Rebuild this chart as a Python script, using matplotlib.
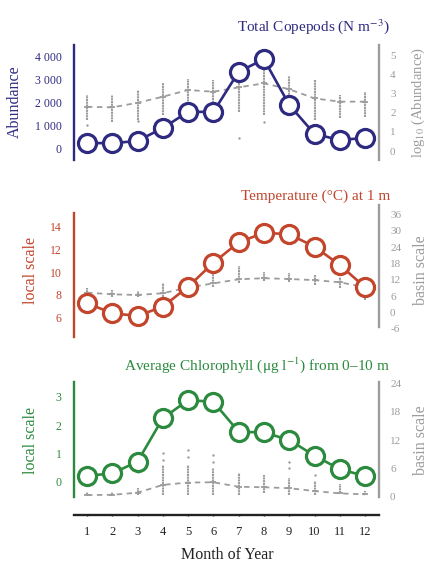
import numpy as np
import matplotlib.pyplot as plt

plt.rcParams['font.family'] = ['Liberation Serif', 'DejaVu Serif']
plt.rcParams['mathtext.fontset'] = 'stix'
plt.rcParams['axes.unicode_minus'] = False

months = np.arange(1, 13)
month_labels = [str(m) for m in months]

# Total copepods (local abundance) and basin log10 abundance
cop_local = [260, 250, 350, 910, 1610, 1610, 3350, 3890, 1910, 650, 390, 480]
cop_mean = [2.32, 2.29, 2.53, 2.85, 3.20, 3.11, 3.34, 3.55, 3.24, 2.76, 2.59, 2.59]
cop_hi = [2.94, 2.94, 3.20, 3.55, 3.80, 3.70, 3.83, 4.50, 3.95, 3.72, 2.94, 3.10]
cop_lo = [1.63, 1.54, 1.63, 1.89, 1.90, 1.70, 2.05, 1.90, 2.10, 1.63, 1.73, 1.80]
cop_out_m = [1, 3, 7, 8]
cop_out_v = [1.36, 1.57, 0.66, 1.50]

# Temperature at 1 m
temp_local = [7.24, 6.36, 6.12, 6.94, 8.70, 10.82, 12.62, 13.47, 13.33, 12.24, 10.62, 8.65]
temp_mean = [7.3, 6.7, 6.45, 7.1, 9.2, 10.7, 12.2, 12.6, 12.3, 11.9, 11.1, 9.3]
temp_hi = [9.0, 8.3, 8.0, 10.7, 12.0, 15.8, 17.0, 14.9, 14.4, 13.8, 13.2, 10.8]
temp_lo = [6.3, 5.8, 5.8, 5.8, 8.5, 9.5, 11.0, 11.5, 11.3, 10.0, 8.9, 4.6]

# Chlorophyll 0-10 m
chl_local = [0.21, 0.29, 0.71, 2.24, 2.88, 2.82, 1.76, 1.74, 1.47, 0.92, 0.44, 0.20]
chl_mean = [0.35, 0.4, 0.85, 2.5, 3.0, 3.05, 2.1, 2.0, 1.8, 1.2, 0.7, 0.5]
chl_hi = [0.9, 1.0, 1.8, 6.7, 6.7, 6.0, 5.0, 4.6, 4.0, 3.3, 2.6, 1.3]
chl_lo = [0.3, 0.3, 0.3, 0.3, 0.3, 0.3, 0.3, 0.7, 0.3, 0.3, 0.7, 0.3]
chl_out_m = [3, 4, 4, 5, 5, 6, 6, 9, 9, 10]
chl_out_v = [5.3, 7.8, 9.2, 8.5, 9.9, 7.4, 8.8, 6.0, 7.4, 4.6]

PURPLE = '#2e2a80'
RED = '#c2452c'
GREEN = '#2b8a3e'
GREY = '#9c9c9c'

W, H = 429, 563
fig = plt.figure(figsize=(W / 100, H / 100), dpi=100)


def make_panel(top_px, bot_px, color, local, ylim_l, lticks, lticklabels,
               mean, lo, hi, ylim_r, rticks, out_m=None, out_v=None,
               lbounds=None, rbounds=None):
    ax = fig.add_axes([74 / W, 1 - bot_px / H, 305 / W, (bot_px - top_px) / H])
    ax2 = ax.twinx()
    ax.set_zorder(ax2.get_zorder() + 1)
    ax.patch.set_visible(False)

    # basin scale: spread of values + mean
    ax2.vlines(months, lo, hi, color=GREY, lw=1.5, linestyles=(0, (1.0, 0.3)))
    if out_m is not None:
        ax2.scatter(out_m, out_v, s=3, color=GREY, lw=0)
    ax2.plot(months, mean, color=GREY, lw=1.3, ls=(0, (3, 2.5)))
    ax2.plot(months, mean, ls='none', marker='_', ms=5, mew=1.3, color=GREY)

    ax.plot(months, local, color=color, lw=1.9, marker='o', ms=13,
            mfc='white', mec=color, mew=2.3)

    ax.set_xlim(0.486, 12.55)
    ax.set_ylim(*ylim_l)
    ax2.set_ylim(*ylim_r)
    ax.set_yticks(lticks)
    ax.set_yticklabels(lticklabels)
    ax2.set_yticks(rticks)

    for s in ['top', 'right', 'bottom']:
        ax.spines[s].set_visible(False)
    for s in ['top', 'left', 'bottom']:
        ax2.spines[s].set_visible(False)
    ax.spines['left'].set_color(color)
    ax.spines['left'].set_linewidth(1.7)
    ax2.spines['right'].set_color(GREY)
    ax2.spines['right'].set_linewidth(1.7)
    if lbounds:
        ax.spines['left'].set_bounds(*lbounds)
    if rbounds:
        ax2.spines['right'].set_bounds(*rbounds)

    ax.tick_params(axis='y', length=0, pad=9, labelsize=8.5, labelcolor=color)
    ax2.tick_params(axis='y', length=0, pad=8, labelsize=8, labelcolor=GREY)
    ax.tick_params(axis='x', bottom=False, labelbottom=False)
    ax2.tick_params(axis='x', bottom=False, labelbottom=False)
    return ax, ax2


# Panel 1: copepods
ax1, ax1r = make_panel(45, 160, PURPLE, cop_local, (-477, 4507),
                       [0, 1000, 2000, 3000, 4000],
                       ['0', '1 000', '2 000', '3 000', '4 000'],
                       cop_mean, cop_lo, cop_hi, (-0.47, 5.56), [0, 1, 2, 3, 4, 5],
                       cop_out_m, cop_out_v)
fig.text(390 / W, 1 - 27 / H, r'Total Copepods (N m$^{-3}$)', ha='right',
         va='center', fontsize=11, color=PURPLE)
fig.text(15 / W, 1 - 102 / H, 'Abundance', rotation=90, ha='center',
         va='center', fontsize=11.5, color=PURPLE)
fig.text(418 / W, 1 - 102 / H, r'log$_{10}$ (Abundance)', rotation=90,
         ha='center', va='center', fontsize=10.5, color=GREY)

# Panel 2: temperature
ax2_, ax2r = make_panel(205, 337, RED, temp_local, (4.26, 15.92),
                        [6, 8, 10, 12, 14], ['6', '8', '10', '12', '14'],
                        temp_mean, temp_lo, temp_hi, (-8.93, 39.4),
                        [-6, 0, 6, 12, 18, 24, 30, 36],
                        lbounds=(4.26, 15.2), rbounds=(-5.2, 39.4))
fig.text(390 / W, 1 - 196 / H, 'Temperature (°C) at 1 m', ha='right',
         va='center', fontsize=11, color=RED)
fig.text(31 / W, 1 - 270 / H, 'local scale', rotation=90, ha='center',
         va='center', fontsize=11.5, color=RED)
fig.text(421 / W, 1 - 270 / H, 'basin scale', rotation=90, ha='center',
         va='center', fontsize=11.5, color=GREY)

# Panel 3: chlorophyll
ax3, ax3r = make_panel(381.7, 496.7, GREEN, chl_local, (-0.53, 3.53),
                       [0, 1, 2, 3], ['0', '1', '2', '3'],
                       chl_mean, chl_lo, chl_hi, (0, 24.34), [0, 6, 12, 18, 24],
                       chl_out_m, chl_out_v)
fig.text(390 / W, 1 - 365 / H,
         r'Average Chlorophyll ($\mathregular{\mu}$g l$^{-1}$) from 0–10 m',
         ha='right', va='center', fontsize=11, color=GREEN)
fig.text(31 / W, 1 - 440 / H, 'local scale', rotation=90, ha='center',
         va='center', fontsize=11.5, color=GREEN)
fig.text(421 / W, 1 - 440 / H, 'basin scale', rotation=90, ha='center',
         va='center', fontsize=11.5, color=GREY)

# shared month axis
ax3.spines['bottom'].set_visible(True)
ax3.spines['bottom'].set_position(('outward', 13))
ax3.spines['bottom'].set_color('#222222')
ax3.spines['bottom'].set_linewidth(1.7)
ax3.set_xticks(months)
ax3.set_xticklabels(month_labels)
ax3.tick_params(axis='x', bottom=True, labelbottom=True, length=2,
                width=1, direction='inout', pad=7, labelsize=9,
                colors='#222222')
fig.text(227 / W, 1 - 555 / H, 'Month of Year', ha='center', va='center',
         fontsize=11.5, color='#222222')

fig.savefig('out.png', dpi=100)
